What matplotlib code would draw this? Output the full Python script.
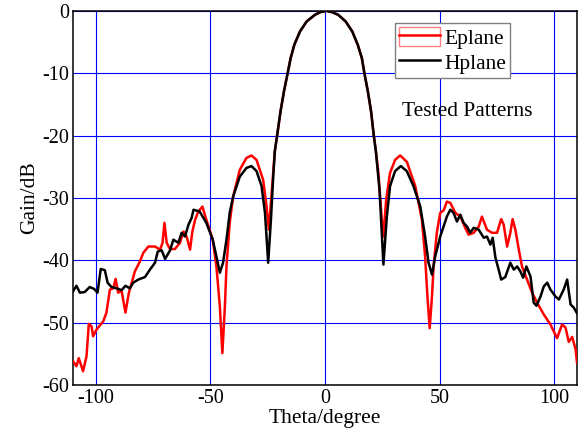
import matplotlib
matplotlib.use("Agg")
import matplotlib.pyplot as plt
from matplotlib.lines import Line2D
from matplotlib.patches import Patch
from matplotlib.legend_handler import HandlerTuple

plt.rcParams["font.family"] = ["Liberation Serif", "DejaVu Serif"]
plt.rcParams["axes.unicode_minus"] = False

# Hplane (black) measured pattern
h_theta = [-110, -108.5, -107, -104.9, -102.7, -100.8, -99.3, -97.9, -96.1, -94.9,
           -93.2, -91, -88.8, -87.1, -85.2, -83.7, -81.5, -78.6, -76.4, -74.2,
           -73, -71.3, -69.8, -67.6, -66.2, -64, -62.6, -61.1, -59.6, -58.2,
           -57.4, -54.7, -51.8, -49, -47.4, -45.9, -44.5, -43, -41.6, -40.1,
           -37.2, -34.3, -32.1, -29.9, -27.7, -26.2, -24.8, -23.6, -22.6, -21.9,
           -20.9, -19.4, -17.9, -16.3, -15, -13.4, -10.9, -8, -4.4, -2,
           0.7, 3, 5.8, 9, 11.9, 14.3, 16.1, 17.2, 18.7, 20.1,
           21.3, 22.2, 23.8, 25.5, 27, 28.4, 30.6, 33.1,
           35.7, 38.6, 41.6, 43.7, 45.2, 46.7, 48.1, 50.3, 53.2, 54.7,
           56.1, 57.6, 59.1, 60.5, 62, 63.4, 64.9, 67.1, 69.3, 70.7,
           72.2, 73.2, 74.4, 75.8, 76.9, 78.7, 80.9, 82.4, 83.9, 85.3,
           86.5, 87.9, 89.7, 91.1, 92.3, 94.1, 95.5, 97, 98.4, 100.6,
           102.1, 104.2, 105.7, 107.2, 108.6, 110]
h_gain = [-45.0, -44.1, -45.2, -45.1, -44.3, -44.6, -45.2, -41.4, -41.6, -43.6,
          -44.3, -44.5, -44.8, -44.1, -44.5, -43.6, -43.1, -42.7, -41.5, -40.4,
          -38.6, -38.4, -39.8, -38.4, -36.7, -37.2, -35.6, -36.2, -34.3, -33.2,
          -31.9, -32.2, -34.0, -36.7, -39.4, -42.0, -40.4, -36.7, -32.4, -29.8,
          -26.6, -25.2, -24.9, -25.7, -28.1, -32.4, -40.4, -33.5, -26.6, -22.5,
          -20.0, -16.1, -12.9, -10.0, -7.6, -5.45, -3.3, -1.7, -0.64, -0.2,
          0.0, -0.2, -0.64, -1.7, -3.3, -5.45, -7.6, -10.0, -12.9, -16.1,
          -20.0, -22.5, -28.7, -40.7, -33.0, -28.1, -25.7, -24.9,
          -25.7, -28.1, -31.4, -36.2, -40.4, -42.3, -39.4, -36.2, -33.0, -31.9,
          -32.4, -33.8, -32.7, -34.0, -34.6, -35.6, -34.8, -35.1, -36.4, -36.2,
          -37.5, -36.4, -39.6, -41.5, -43.1, -42.7, -40.4, -41.5, -41.0, -41.8,
          -42.8, -41.0, -42.6, -46.8, -47.3, -45.8, -44.2, -43.6, -44.7, -45.8,
          -46.3, -44.7, -43.1, -47.1, -47.6, -48.5]

# Eplane (red) measured pattern
e_theta = [-110, -108.5, -107.5, -105.6, -104.1, -103.1, -101.9, -101.2, -99.7, -96.8,
           -95.4, -93.9, -92.4, -91.4, -90.3, -88.8, -87.1, -85.6, -84.4, -83,
           -80.8, -79.3, -77.1, -74.2, -72, -70.9, -70.1, -69.1, -67.7, -65.5,
           -63.3, -61.8, -60.4, -58.9, -57.9, -56.7, -55.3, -53.5, -51.8, -49,
           -47.4, -45.9, -44.8, -43.7, -43, -41.6, -40.1, -37.2, -34.3, -32.1,
           -29.9, -27, -25.5, -24.5, -23.5, -22.4, -21.9,
           -20.9, -19.4, -17.9, -16.3, -15, -13.4, -10.9, -8, -4.4, -2,
           0.7, 3, 5.8, 9, 11.9, 14.3, 16.1, 17.2, 18.7, 20.1,
           21.3, 22.2, 23.3, 24.8, 25.5, 26.7, 28.4, 30.6, 32.8, 35.7, 39.4,
           42.3, 43.7, 44.8, 45.7, 46.7, 47.4, 48.8, 50.3, 51.8, 53.2,
           54.7, 56.9, 59.1, 61.2, 62.7, 64.9, 67.1, 68.5, 70.7, 72.9,
           75.1, 76.9, 78, 79.5, 80.9, 81.9, 83.1, 84.6, 86, 88.2,
           90.4, 92.6, 95.5, 98.4, 101.3, 103.5, 105, 106.4, 107.9, 109.4,
           110]
e_gain = [-56.2, -57.0, -55.7, -57.8, -55.4, -50.2, -50.6, -52.2, -51.1, -49.8,
          -48.4, -44.7, -44.5, -43.0, -45.2, -44.9, -48.4, -45.2, -43.6, -41.8,
          -40.2, -38.8, -37.8, -37.8, -38.3, -37.2, -34.0, -37.2, -38.2, -38.2,
          -37.2, -35.4, -36.2, -38.3, -35.4, -33.5, -32.2, -31.4, -33.5, -36.7,
          -41.0, -47.4, -54.9, -47.4, -41.0, -34.0, -29.8, -25.5, -23.6, -23.2,
          -23.9, -27.1, -31.4, -35.1, -30.3, -24.9, -22.5,
          -20.0, -16.1, -12.9, -10.0, -7.6, -5.45, -3.3, -1.7, -0.64, -0.2,
          0.0, -0.2, -0.64, -1.7, -3.3, -5.45, -7.6, -10.0, -12.9, -16.1,
          -20.0, -22.5, -26.0, -33.5, -36.2, -30.3, -26.0, -23.9, -23.2, -24.2, -28.1,
          -33.5, -39.4, -46.3, -50.9, -45.8, -41.0, -35.6, -32.4, -32.0, -30.6,
          -30.8, -32.4, -33.0, -34.8, -35.9, -35.6, -34.6, -33.0, -35.1, -35.6,
          -35.6, -33.4, -34.3, -37.8, -35.6, -33.4, -35.1, -38.3, -41.0, -43.1,
          -45.2, -46.8, -48.7, -50.3, -52.5, -50.3, -50.8, -53.1, -52.3, -54.3,
          -56.4]

x_ticks = [-100, -50, 0, 50, 100]
y_ticks = [0, -10, -20, -30, -40, -50, -60]

fig = plt.figure(figsize=(5.84, 4.33), dpi=100)
ax = fig.add_axes([0.125, 0.111, 0.863, 0.864])

ax.plot(e_theta, e_gain, color="red", lw=1.8, zorder=3)
ax.plot(h_theta, h_gain, color="black", lw=1.8, zorder=4)

ax.set_xlim(-110, 110)
ax.set_ylim(-60, 0)
ax.set_xticks(x_ticks)
ax.set_yticks(y_ticks)
ax.tick_params(length=0, labelsize=14.5, pad=3)
ax.grid(True, color="blue", lw=0.8)
ax.set_axisbelow(True)
for s in ax.spines.values():
    s.set_linewidth(1.1)

ax.set_xlabel("Theta/degree", fontsize=15.5, labelpad=1)
ax.set_ylabel("Gain/dB", fontsize=15.5, labelpad=2)

ax.text(62, -16.2, "Tested Patterns", fontsize=15.5, ha="center", va="center")

e_handle = (Patch(facecolor="white", edgecolor="#ff8080", lw=1.0),
            Line2D([], [], color="red", lw=1.8))
h_handle = Line2D([], [], color="black", lw=1.8)
leg = ax.legend([e_handle, h_handle], ["Eplane", "Hplane"],
                handler_map={tuple: HandlerTuple(ndivide=1, pad=0)},
                loc="upper left", bbox_to_anchor=(0.638, 0.968), borderaxespad=0,
                fontsize=15.5, frameon=True, fancybox=False, framealpha=1,
                edgecolor="gray", handlelength=1.9, handleheight=0.95,
                handletextpad=0.2, labelspacing=0.15, borderpad=0.2)
leg.get_frame().set_linewidth(1.0)

fig.savefig("out.png", dpi=100)
